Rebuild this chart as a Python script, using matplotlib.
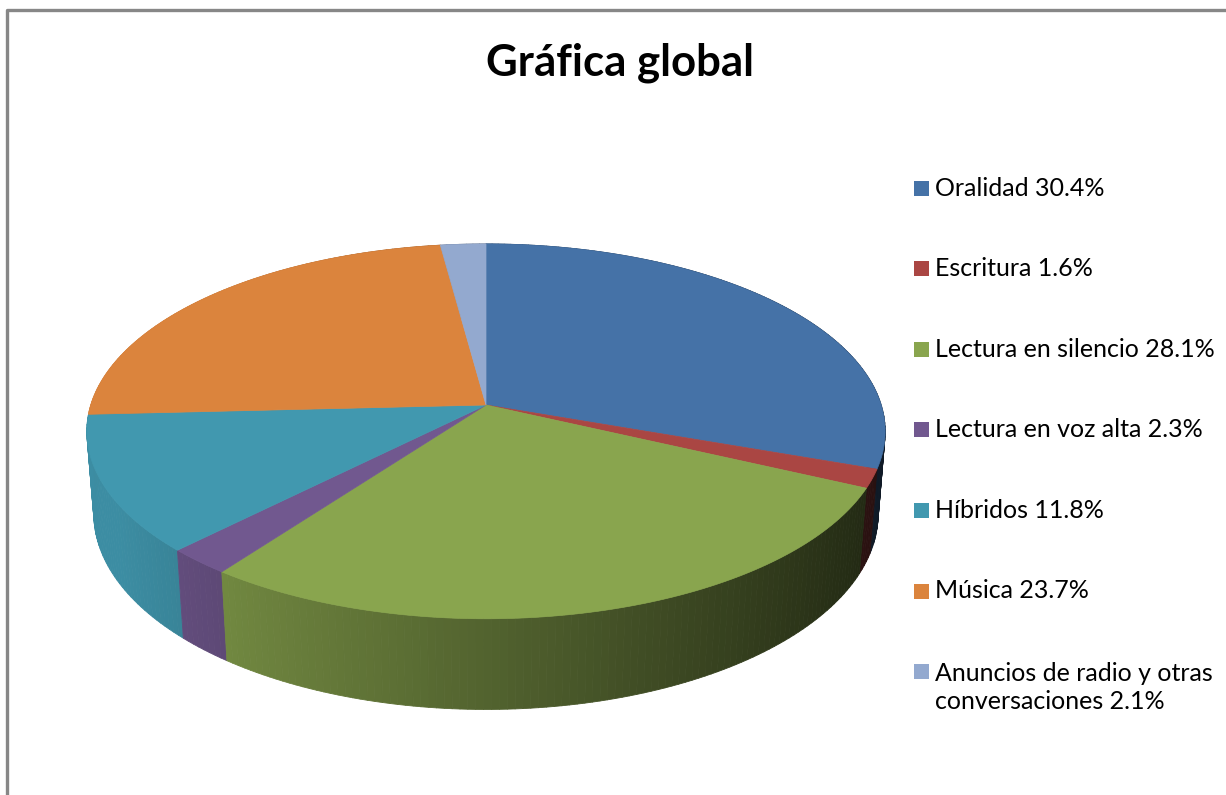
import numpy as np
import matplotlib.pyplot as plt
from matplotlib.patches import Polygon, Rectangle
from matplotlib.collections import PolyCollection
from matplotlib.colors import to_rgb

# Global chart: share of each activity type
labels = ['Oralidad', 'Escritura', 'Lectura en silencio', 'Lectura en voz alta',
          'Híbridos', 'Música', 'Anuncios de radio y otras\nconversaciones']
values = [30.4, 1.6, 28.1, 2.3, 11.8, 23.7, 2.1]
colors = ['#4572A7', '#AA4643', '#89A54E', '#71588F', '#4198AF', '#DB843D', '#93A9CF']
title = 'Gráfica global'

# perspective camera for the 3d disc (pixel space)
CX, CY = 486, 405
FOCAL = 2490
DIST = 6.30
TILT = np.radians(27.7)
THICK = 0.238


def project(theta, z):
    x3 = np.sin(theta)
    y3 = np.cos(theta)
    depth = DIST + y3 * np.cos(TILT) - z * np.sin(TILT)
    v = y3 * np.sin(TILT) + z * np.cos(TILT)
    return CX + FOCAL * x3 / depth, CY - FOCAL * v / depth, depth


fig = plt.figure(figsize=(12.26, 7.95), dpi=100)
ax = fig.add_axes([0, 0, 1, 1])
ax.set_xlim(0, 1226)
ax.set_ylim(795, 0)
ax.axis('off')

fracs = np.array(values) / np.sum(values)
edges = np.concatenate([[0], np.cumsum(fracs)]) * 2 * np.pi

# side wall, built from small quads and painted back to front
quads, quad_cols, quad_depth = [], [], []
for i in range(len(values)):
    a0, a1 = edges[i], edges[i + 1]
    n = max(3, int(np.degrees(a1 - a0)))
    th = np.linspace(a0, a1, n + 1)
    xt, yt, dt = project(th, 0.0)
    xb, yb, db = project(th, -THICK)
    base = np.array(to_rgb(colors[i]))
    for k in range(n):
        quads.append([(xt[k], yt[k]), (xt[k + 1], yt[k + 1]),
                      (xb[k + 1], yb[k + 1]), (xb[k], yb[k])])
        mid = 0.5 * (th[k] + th[k + 1])
        shade = np.clip(0.6 - 0.38 * np.sin(mid), 0.22, 0.93)
        quad_cols.append(tuple(base * shade))
        quad_depth.append(0.25 * (dt[k] + dt[k + 1] + db[k] + db[k + 1]))
order = np.argsort(quad_depth)[::-1]
walls = PolyCollection([quads[j] for j in order],
                       facecolors=[quad_cols[j] for j in order],
                       edgecolors=[quad_cols[j] for j in order], linewidths=0.6)
ax.add_collection(walls)

# top faces
for i in range(len(values)):
    a0, a1 = edges[i], edges[i + 1]
    n = max(3, int(np.degrees(a1 - a0)) * 2)
    th = np.linspace(a0, a1, n + 1)
    xt, yt, _ = project(th, 0.0)
    pts = [(CX, CY)] + list(zip(xt, yt))
    ax.add_patch(Polygon(pts, closed=True, facecolor=colors[i],
                         edgecolor=colors[i], linewidth=0.5))

# title
ax.text(620, 63, title, ha='center', va='center', fontsize=31.5,
        fontweight='bold', family='Lato')

# legend
y0, step = 188, 80.6
for i, (lab, val) in enumerate(zip(labels, values)):
    yc = y0 + i * step
    ax.add_patch(Rectangle((914, yc - 7.5), 15, 15, facecolor=colors[i],
                           edgecolor='none'))
    nlines = lab.count('\n') + 1
    ax.text(935, yc + (nlines - 1) * 16, f'{lab} {val}%', ha='left',
            va='center', fontsize=18, family='Lato', linespacing=1.3)

# chart frame
ax.plot([6.5, 6.5, 1240], [800, 10, 10], color='#878787', lw=2.4,
        solid_capstyle='butt')

fig.savefig('out.png', dpi=100)
